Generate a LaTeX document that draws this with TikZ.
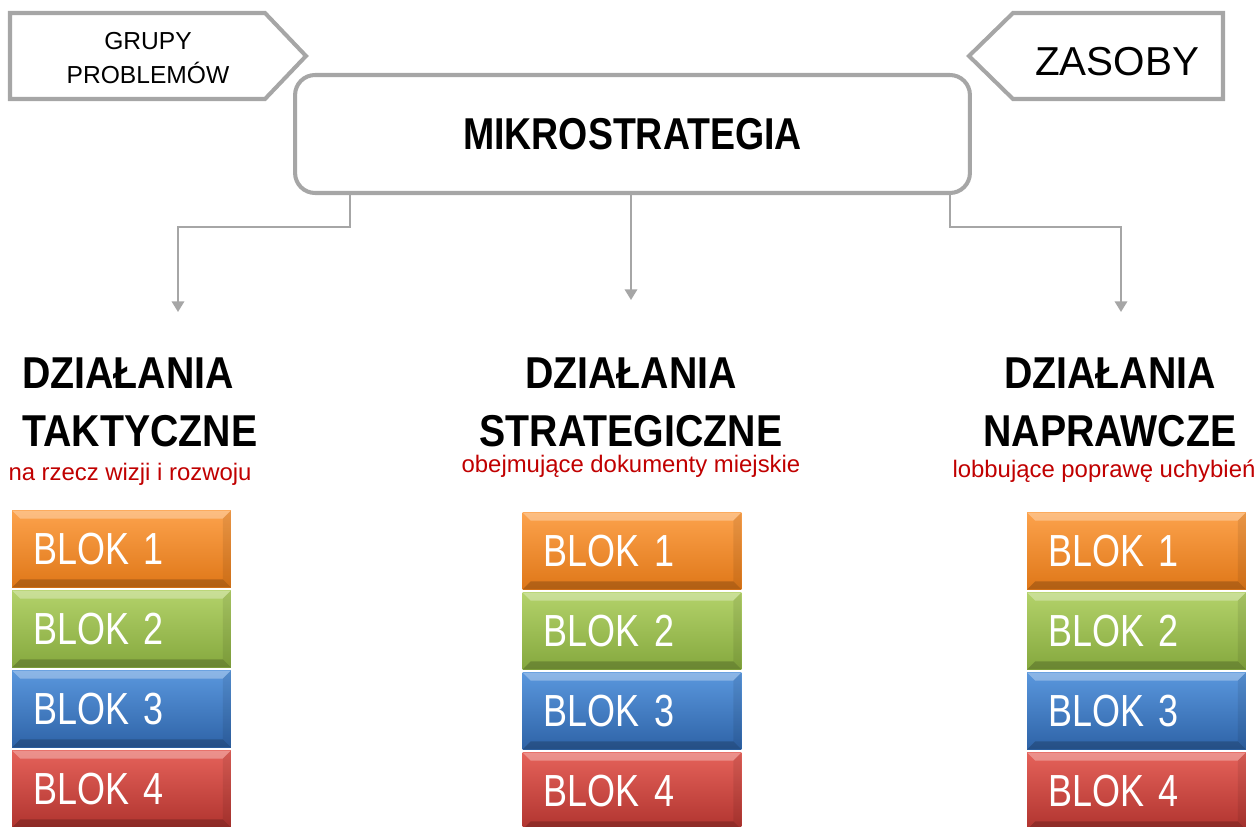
\documentclass[tikz,border=0pt]{standalone}
\usepackage{fontspec}
\setmainfont{Liberation Sans}
\newfontfamily\narrowsans[FakeStretch=0.84]{Liberation Sans}
\newfontfamily\headsans[FakeStretch=0.88]{Liberation Sans}
\newfontfamily\bloksans[FakeStretch=0.8]{Liberation Sans}
\usetikzlibrary{arrows.meta, positioning, calc}
\definecolor{framegrey}{HTML}{A6A6A6}
\definecolor{notered}{HTML}{C00000}
\definecolor{b1top}{HTML}{FCA24C}
\definecolor{b1bot}{HTML}{DF7718}
\definecolor{b2top}{HTML}{B3D26A}
\definecolor{b2bot}{HTML}{85A83E}
\definecolor{b3top}{HTML}{5A97DD}
\definecolor{b3bot}{HTML}{2E63A7}
\definecolor{b4top}{HTML}{E5625A}
\definecolor{b4bot}{HTML}{B0342F}
\tikzset{
  frame/.style={draw=framegrey, line width=2.3pt, fill=white},
  link/.style={draw=framegrey, line width=1.2pt, -{Triangle[width=7pt,length=6pt]}},
  headline/.style={align=center, inner sep=0pt,
    font=\headsans\bfseries\fontsize{25.4}{33}\selectfont},
  note/.style={text=notered, inner sep=0pt, font=\fontsize{13.6}{16}\selectfont},
  blok/.style={minimum height=1.54cm, text width=3.54cm, inner xsep=0.42cm,
    align=left, text=white, font=\bloksans\fontsize{25.6}{30}\selectfont,
    path picture={
      \fill[white, opacity=.3] (path picture bounding box.north west)
        -- (path picture bounding box.north east)
        -- ([shift={(-8,8)}]path picture bounding box.north east)
        -- ([shift={(8,8)}]path picture bounding box.north west) -- cycle;
      \fill[black, opacity=.2] (path picture bounding box.south west)
        -- (path picture bounding box.south east)
        -- ([shift={(-8,-8)}]path picture bounding box.south east)
        -- ([shift={(8,-8)}]path picture bounding box.south west) -- cycle;
      \fill[black, opacity=.08] (path picture bounding box.north east)
        -- (path picture bounding box.south east)
        -- ([shift={(-8,-8)}]path picture bounding box.south east)
        -- ([shift={(-8,8)}]path picture bounding box.north east) -- cycle;}}
}
\begin{document}
\begin{tikzpicture}[x=0.02cm, y=-0.02cm]
  \useasboundingbox (0,0) rectangle (1259,827);
  \clip (0,0) rectangle (1259,827);
  % side tags
  \draw[frame] (10,13) -- (265,13) -- (306,56) -- (265,99) -- (10,99) -- cycle;
  \node[align=center, font=\fontsize{14}{19}\selectfont] (grupy) at (148,58)
    {GRUPY\\PROBLEMÓW};
  \draw[frame] (1223,13) -- (1013,13) -- (969,56) -- (1013,99) -- (1223,99) -- cycle;
  \node[font=\fontsize{23}{26}\selectfont] (zasoby) at (1117,62) {ZASOBY};
  % main box
  \node[frame, rounded corners=0.4cm, minimum width=13.5cm, minimum height=2.36cm,
    font=\narrowsans\bfseries\fontsize{25.4}{30}\selectfont] (mikro) at (632.5,134)
    {MIKROSTRATEGIA};
  \coordinate (tipL) at (178,312);
  \coordinate (tipS) at (631,300);
  \coordinate (tipN) at (1121,312);
  \draw[link] (mikro.south -| 350,0) -- ++(0,32) -| (tipL);
  \draw[link] (mikro.south -| tipS) -- (tipS);
  \draw[link] (mikro.south -| 950,0) -- ++(0,32) -| (tipN);
  % columns
  \node[headline, align=left, anchor=north west] (tytulL) at (22,357)
    {DZIAŁANIA\\TAKTYCZNE};
  \node[headline, anchor=north] (tytulS) at (631,357) {DZIAŁANIA\\STRATEGICZNE};
  \node[headline, anchor=north] (tytulN) at (1110,357) {DZIAŁANIA\\NAPRAWCZE};
  \node[note, anchor=base] (opisL) at (130,481) {na rzecz wizji i rozwoju};
  \node[note, anchor=base] (opisS) at (631,473) {obejmujące dokumenty miejskie};
  \node[note, anchor=base] (opisN) at (1104,478) {lobbujące poprawę uchybień};
  \foreach \colx/\coly/\col in {121.5/549/L, 632/551/S, 1136.5/551/N}{%
    \foreach \i in {1,...,4}{%
      \node[blok, top color=b\i top, bottom color=b\i bot] (blok\col\i)
        at (\colx,{\coly+80*(\i-1)}) {BLOK \i};}}
\end{tikzpicture}
\end{document}
